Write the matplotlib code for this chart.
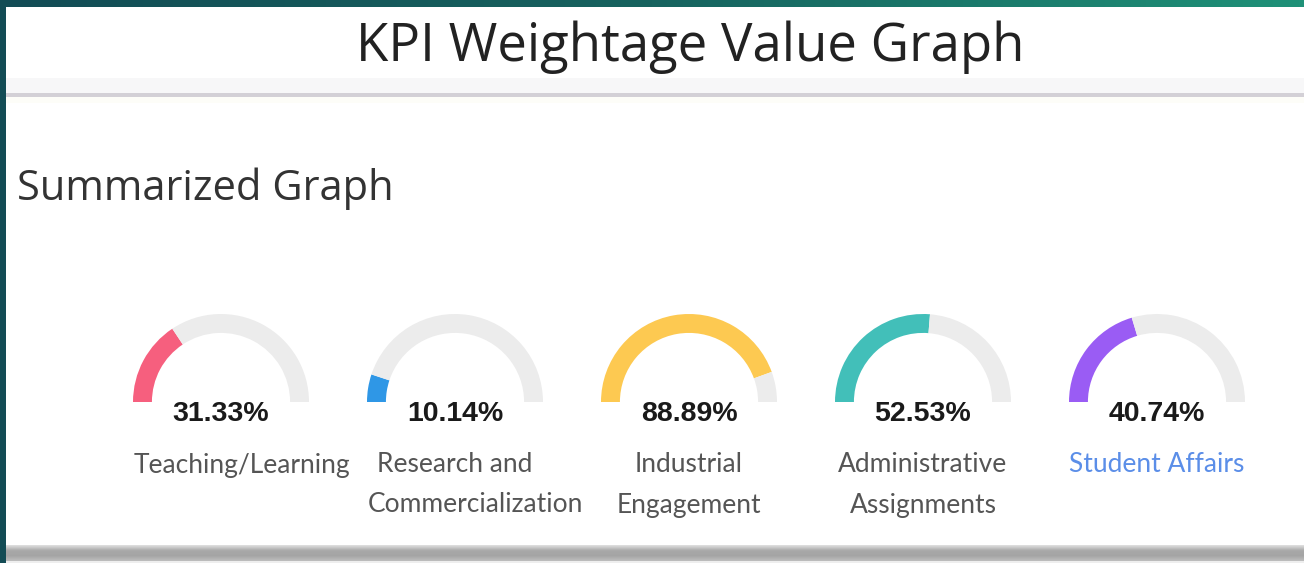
import numpy as np
import matplotlib.pyplot as plt
from matplotlib.patches import Rectangle
from matplotlib.colors import LinearSegmentedColormap

W, H = 1304, 563

categories = ["Teaching/Learning", "Research and\nCommercialization", "Industrial\nEngagement",
              "Administrative\nAssignments", "Student Affairs"]
values = [31.33, 10.14, 88.89, 52.53, 40.74]
colors = ["#f65f7e", "#2f97e6", "#fdc951", "#42bfb9", "#9a5cf4"]
label_colors = ["#555555", "#555555", "#555555", "#555555", "#5b8ee8"]

fig = plt.figure(figsize=(W / 100, H / 100), dpi=100)
bg = fig.add_axes([0, 0, 1, 1])
bg.set_xlim(0, W)
bg.set_ylim(H, 0)
bg.axis('off')

# teal frame gradient (dark left -> green right)
grad = np.linspace(0, 1, 256)[None, :]
frame_cmap = LinearSegmentedColormap.from_list("frame", ["#134c55", "#17635f", "#1f9178"])
bg.imshow(grad, extent=(0, W, H, 0), aspect='auto', cmap=frame_cmap, zorder=0)

# card
bg.add_patch(Rectangle((6, 7), W - 6, 538, facecolor="white", edgecolor="none", zorder=1))
bg.add_patch(Rectangle((6, 78), W - 6, 15, facecolor="#f7f7f8", edgecolor="none", zorder=2))
bg.add_patch(Rectangle((6, 93), W - 6, 4, facecolor="#d3d0d6", edgecolor="none", zorder=2))
bg.add_patch(Rectangle((6, 97), W - 6, 6, facecolor="#fdfdf8", edgecolor="none", zorder=2))

# bottom shadow band
shade = np.linspace(0, 1, 32)[:, None]
shadow_cmap = LinearSegmentedColormap.from_list("shadow", ["#e0e0e0", "#a9a9a9", "#a4a4a4", "#bdbdbd"])
bg.imshow(shade, extent=(6, W, 561, 545), aspect='auto', cmap=shadow_cmap, zorder=2)
bg.add_patch(Rectangle((6, 561), W - 6, 2, facecolor="#eeeeee", edgecolor="none", zorder=2))

fig.text(690 / W, 1 - 47 / H, "KPI Weightage Value Graph", ha='center', va='center',
         fontsize=38, color="#222222", family="Open Sans")
fig.text(17 / W, 1 - 189 / H, "Summarized Graph", ha='left', va='center',
         fontsize=30, color="#333333", family="Open Sans")

R = 88
cy = 402
centers = [221, 455, 689, 923, 1157]
line_y = [465, 505]

renderer = fig.canvas.get_renderer()
for cx, v, c, cat, lc in zip(centers, values, colors, categories, label_colors):
    ax = fig.add_axes([(cx - R) / W, (H - cy) / H, 2 * R / W, R / H])
    ax.pie([v, 100 - v, 100], startangle=180, counterclock=False,
           colors=[c, "#ececec", "none"], radius=1,
           wedgeprops=dict(width=0.215, edgecolor="none"))
    ax.set_xlim(-1, 1)
    ax.set_ylim(0, 1)
    ax.set_aspect('auto')
    ax.axis('off')
    fig.text(cx / W, 1 - 414 / H, f"{v:.2f}%", ha='center', va='center',
             fontsize=20.5, fontweight='bold', color="#1a1a1a", family="Liberation Sans")
    for line, ly in zip(cat.split("\n"), line_y):
        t = fig.text(cx / W, 1 - ly / H, line, ha='center', va='center', fontsize=19,
                     color=lc, family="Lato")
        # text wider than the gauge box overflows to the right from the box's left edge
        if t.get_window_extent(renderer).width > 2 * R:
            t.set_ha('left')
            t.set_x((cx - R + 1) / W)

fig.savefig("out.png", dpi=100)
